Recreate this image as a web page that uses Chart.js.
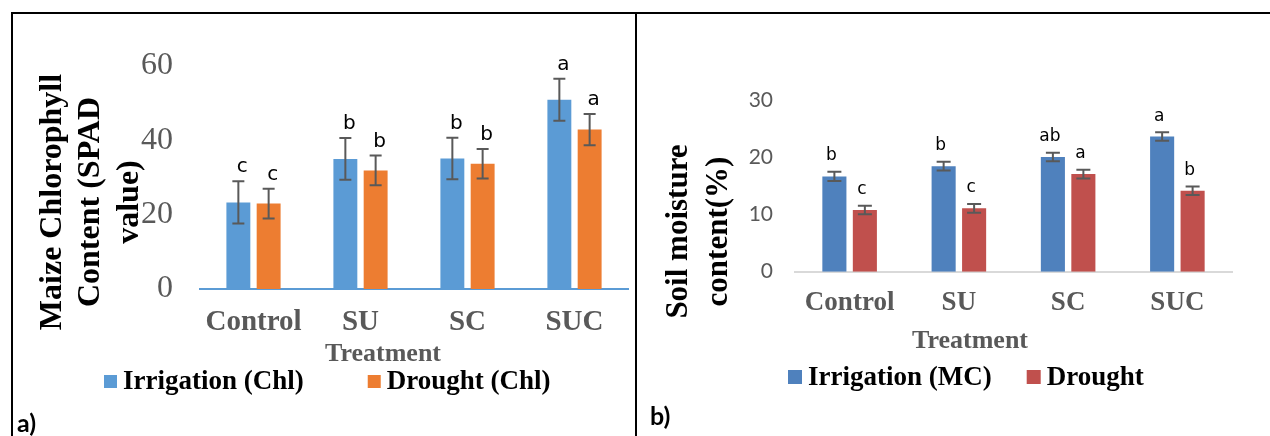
<!DOCTYPE html>
<html>
<head>
<meta charset="utf-8">
<script src="https://cdn.jsdelivr.net/npm/chart.js@4.4.0/dist/chart.umd.min.js"></script>
<style>
  html, body { margin: 0; padding: 0; background: #fff; width: 1270px; height: 436px; overflow: hidden; position: relative; }
  canvas { position: absolute; }
  .line { position: absolute; background: #000; }
  .tag { position: absolute; font: bold 25px Lato, sans-serif; color: #000; }
</style>
</head>
<body>
<canvas id="chl" width="623" height="423" style="left:12px;top:13px"></canvas>
<canvas id="mc" width="633" height="423" style="left:637px;top:13px"></canvas>
<div class="line" style="left:11px;top:12px;width:1259px;height:1.5px"></div>
<div class="line" style="left:11px;top:12px;width:1.5px;height:424px"></div>
<div class="line" style="left:635px;top:12px;width:1.5px;height:424px"></div>
<div class="tag" style="left:17px;top:407px">a)</div>
<div class="tag" style="left:650px;top:400px">b)</div>

<script>
// ── Data ──────────────────────────────────────────────────────
const treatments = ["Control", "SU", "SC", "SUC"];

// a) chlorophyll (SPAD)
const chlTicks = [0, 20, 40, 60];
const chlIrrigation    = [23.3, 35.0, 35.1, 50.9];
const chlIrrigationErr = [5.7, 5.6, 5.6, 5.65];
const chlIrrigationSig = ["c", "b", "b", "a"];
const chlDrought       = [23.0, 31.9, 33.7, 42.9];
const chlDroughtErr    = [4.0, 4.0, 3.95, 4.2];
const chlDroughtSig    = ["c", "b", "b", "a"];

// b) soil moisture (%)
const mcTicks = [0, 10, 20, 30];
const mcIrrigation    = [16.7, 18.5, 20.1, 23.7];
const mcIrrigationErr = [0.8, 0.75, 0.75, 0.75];
const mcIrrigationSig = ["b", "b", "ab", "a"];
const mcDrought       = [10.8, 11.1, 17.1, 14.2];
const mcDroughtErr    = [0.75, 0.75, 0.75, 0.75];
const mcDroughtSig    = ["c", "c", "a", "b"];

// ── Error bars, letters, titles, legend ───────────────────────
const panelPlugin = {
  id: "panel",
  afterDatasetsDraw(chart, args, o) {
    const ctx = chart.ctx, y = chart.scales.y;
    ctx.save();
    chart.data.datasets.forEach((ds, i) => {
      chart.getDatasetMeta(i).data.forEach((bar, j) => {
        const v = ds.data[j], e = ds.errors[j];
        const top = y.getPixelForValue(v + e), bot = y.getPixelForValue(v - e);
        ctx.strokeStyle = "#595959";
        ctx.lineWidth = 2;
        ctx.beginPath();
        ctx.moveTo(bar.x, top); ctx.lineTo(bar.x, bot);
        ctx.moveTo(bar.x - o.cap / 2, top); ctx.lineTo(bar.x + o.cap / 2, top);
        ctx.moveTo(bar.x - o.cap / 2, bot); ctx.lineTo(bar.x + o.cap / 2, bot);
        ctx.stroke();
        ctx.fillStyle = "#000";
        ctx.font = o.letterFont;
        ctx.textAlign = "center";
        ctx.textBaseline = "middle";
        ctx.fillText(ds.letters[j], bar.x + o.letterDx, top + o.letterDy);
      });
    });
    ctx.restore();
  },
  afterDraw(chart, args, o) {
    const ctx = chart.ctx;
    ctx.save();
    ctx.textAlign = "center";
    ctx.textBaseline = "middle";
    // y title (rotated, one line each)
    ctx.font = o.yTitleFont;
    ctx.fillStyle = "#000";
    o.yTitle.forEach((line, k) => {
      ctx.save();
      ctx.translate(o.yTitleX[k], o.yTitleY);
      ctx.rotate(-Math.PI / 2);
      ctx.fillText(line, 0, 0);
      ctx.restore();
    });
    // x title
    ctx.font = o.xTitleFont;
    ctx.fillStyle = "#595959";
    ctx.fillText(o.xTitle, o.xTitleX, o.xTitleY);
    // legend
    ctx.font = o.legendFont;
    ctx.textAlign = "left";
    let x = o.legendX;
    chart.data.datasets.forEach(ds => {
      ctx.fillStyle = ds.backgroundColor;
      ctx.fillRect(x, o.legendY - o.box / 2, o.box, o.box);
      x += o.box + o.boxGap;
      ctx.fillStyle = "#000";
      ctx.fillText(ds.label, x, o.legendY + 1);
      x += ctx.measureText(ds.label).width + o.itemGap;
    });
    ctx.restore();
  }
};

function makeChart(id, cfg) {
  const step = cfg.ticks[1] - cfg.ticks[0];
  return new Chart(document.getElementById(id), {
    type: "bar",
    data: { labels: treatments, datasets: cfg.datasets },
    options: {
      responsive: false, animation: false, devicePixelRatio: 1, events: [],
      layout: { padding: cfg.padding },
      datasets: { bar: { categoryPercentage: cfg.cp, barPercentage: 0.79 } },
      plugins: { legend: { display: false }, tooltip: { enabled: false }, panel: cfg.panel },
      scales: {
        x: {
          grid: { display: false, drawTicks: false },
          border: { color: cfg.axisColor, width: 2 },
          ticks: { padding: cfg.xPad, color: "#595959", maxRotation: 0, autoSkip: false,
                   font: { family: "Liberation Serif", size: cfg.xFont, weight: "bold" } },
          afterFit: s => { s.height = 100; }
        },
        y: {
          min: cfg.ticks[0], max: cfg.ticks[cfg.ticks.length - 1],
          grid: { display: false, drawTicks: false },
          border: { display: false },
          ticks: { stepSize: step, padding: cfg.yPad, color: "#595959", font: cfg.yFont },
          afterFit: s => { s.width = cfg.yWidth; }
        }
      }
    },
    plugins: [panelPlugin]
  });
}

// ── a) Maize chlorophyll ──────────────────────────────────────
makeChart("chl", {
  ticks: chlTicks,
  datasets: [
    { label: "Irrigation (Chl)", data: chlIrrigation, errors: chlIrrigationErr, letters: chlIrrigationSig, backgroundColor: "#5B9BD5" },
    { label: "Drought (Chl)",    data: chlDrought,    errors: chlDroughtErr,    letters: chlDroughtSig,    backgroundColor: "#ED7D31" }
  ],
  padding: { left: 0, top: 53, right: 7, bottom: 47 },
  cp: 0.566, axisColor: "#5B9BD5",
  xPad: 16, xFont: 29,
  yPad: 27, yWidth: 188, yFont: { family: "Liberation Serif", size: 32 },
  panel: {
    cap: 12, letterFont: "20px 'DejaVu Sans'", letterDx: 4, letterDy: -14,
    yTitle: ["Maize Chlorophyll", "Content (SPAD", "value)"], yTitleFont: "bold 32px 'Liberation Serif'",
    yTitleX: [40.5, 79, 118], yTitleY: 189,
    xTitle: "Treatment", xTitleFont: "bold 26px 'Liberation Serif'", xTitleX: 371, xTitleY: 341,
    legendFont: "bold 27px 'Liberation Serif'", legendX: 92, legendY: 368.5, box: 13, boxGap: 6, itemGap: 64
  }
});

// ── b) Soil moisture ──────────────────────────────────────────
makeChart("mc", {
  ticks: mcTicks,
  datasets: [
    { label: "Irrigation (MC)", data: mcIrrigation, errors: mcIrrigationErr, letters: mcIrrigationSig, backgroundColor: "#4F81BD" },
    { label: "Drought",         data: mcDrought,    errors: mcDroughtErr,    letters: mcDroughtSig,    backgroundColor: "#C0504D" }
  ],
  padding: { left: 0, top: 87.5, right: 38, bottom: 64.3 },
  cp: 0.558, axisColor: "#D9D9D9",
  xPad: 15, xFont: 27,
  yPad: 22, yWidth: 158, yFont: { family: "Lato", size: 21 },
  panel: {
    cap: 14, letterFont: "17px 'DejaVu Sans'", letterDx: -3, letterDy: -16,
    yTitle: ["Soil moisture", "content(%)"], yTitleFont: "bold 31px 'Liberation Serif'",
    yTitleX: [42, 82], yTitleY: 218.5,
    xTitle: "Treatment", xTitleFont: "bold 26px 'Liberation Serif'", xTitleX: 333, xTitleY: 328,
    legendFont: "bold 27px 'Liberation Serif'", legendX: 151, legendY: 364, box: 14, boxGap: 6, itemGap: 35
  }
});
</script>
</body>
</html>
